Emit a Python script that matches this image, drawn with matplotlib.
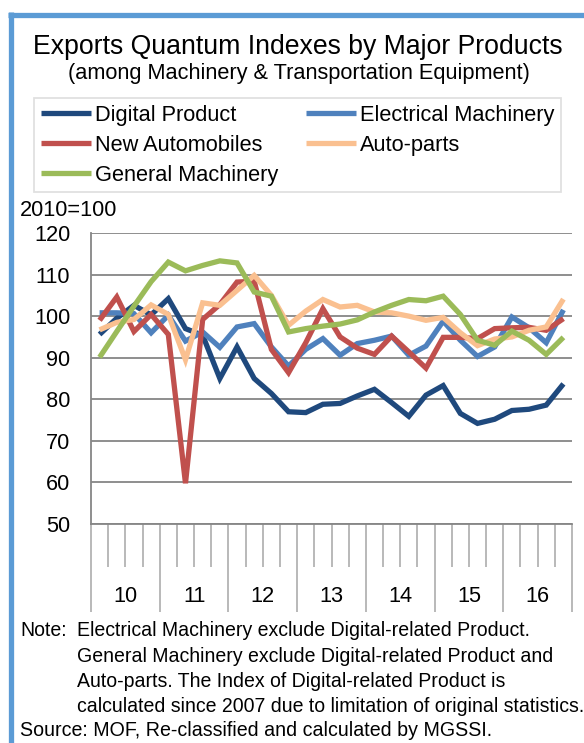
import matplotlib
matplotlib.use("Agg")
import matplotlib.pyplot as plt
import matplotlib.transforms as mtrans
from matplotlib.lines import Line2D
import numpy as np

plt.rcParams['font.family'] = ['Liberation Sans', 'DejaVu Sans']

years = ['10', '11', '12', '13', '14', '15', '16']
digital = [95.6, 99.5, 102.6, 100.3, 104.2, 97.0, 95.4, 85.0, 92.6, 85.0, 81.4, 77.0, 76.8, 78.8,
           79.0, 80.8, 82.4, 79.2, 75.9, 81.0, 83.3, 76.6, 74.2, 75.2, 77.3, 77.6, 78.6, 83.7]
electrical = [100.8, 100.8, 100.6, 96.0, 100.2, 94.0, 96.2, 92.5, 97.4, 98.2, 92.6, 88.0, 92.0, 94.6,
              90.6, 93.4, 94.2, 95.2, 90.6, 92.8, 98.8, 94.2, 90.3, 92.6, 99.8, 97.2, 93.6, 101.5]
new_auto = [99.0, 104.6, 96.3, 100.4, 95.6, 59.8, 99.2, 102.8, 108.2, 108.4, 92.0, 86.4, 93.6, 101.8,
            95.0, 92.3, 90.8, 95.2, 91.4, 87.5, 94.9, 94.9, 94.6, 97.0, 97.2, 97.3, 96.6, 99.4]
auto_parts = [96.7, 98.5, 99.2, 102.7, 100.4, 89.5, 103.2, 102.6, 106.2, 109.8, 105.0, 97.8, 101.2, 104.0,
              102.2, 102.6, 101.0, 100.8, 100.0, 99.0, 99.7, 96.0, 92.9, 94.5, 95.0, 96.6, 97.4, 104.1]
general = [90.1, 96.3, 102.4, 108.3, 113.0, 110.9, 112.2, 113.3, 112.8, 105.8, 104.8, 96.2, 97.0, 97.6,
           98.1, 99.1, 101.0, 102.6, 104.0, 103.7, 104.8, 100.4, 94.2, 93.0, 96.4, 94.2, 90.8, 94.9]

series = [
    ('Digital Product', digital, '#1F497D'),
    ('Electrical Machinery', electrical, '#4F81BD'),
    ('New Automobiles', new_auto, '#C0504D'),
    ('Auto-parts', auto_parts, '#FAC090'),
    ('General Machinery', general, '#9BBB59'),
]

W, H = 584, 743
fig = plt.figure(figsize=(W / 100, H / 100), dpi=100)

def fx(px):
    return px / W

def fy(py):
    return 1 - py / H

# blue frame
frame_col = '#5B9BD5'
fig.add_artist(Line2D([fx(10.5), fx(10.5)], [fy(12), fy(760)], color=frame_col, lw=3.8,
                      transform=fig.transFigure, solid_capstyle='butt'))
fig.add_artist(Line2D([fx(8), fx(600)], [fy(14.5), fy(14.5)], color=frame_col, lw=3.8,
                      transform=fig.transFigure, solid_capstyle='butt'))

ax = fig.add_axes([fx(91), fy(524), fx(572) - fx(91), (524 - 233) / H])

x = np.arange(len(digital)) + 0.5
handles = {}
for name, vals, col in series:
    ln, = ax.plot(x, vals, color=col, lw=3.8, solid_joinstyle='miter', solid_capstyle='butt', label=name)
    handles[name] = ln

ax.set_xlim(0, 28)
ax.set_ylim(50, 120)
ax.set_yticks(range(50, 121, 10))
ax.yaxis.grid(True, color='#868686', lw=1.3)
ax.set_axisbelow(True)
for s in ['top', 'right']:
    ax.spines[s].set_visible(False)
ax.spines['left'].set_color('#868686')
ax.spines['left'].set_linewidth(1.3)
ax.spines['bottom'].set_color('#868686')
ax.spines['bottom'].set_linewidth(1.3)
ax.tick_params(axis='y', length=0, pad=15, labelsize=15.7)
ax.set_xticks(range(0, 29, 4))
ax.set_xticklabels([])
ax.set_xticks(range(0, 29), minor=True)
ax.tick_params(axis='x', which='major', length=63, width=1.1, color='#A6A6A6', direction='out')
ax.tick_params(axis='x', which='minor', length=31, width=1.1, color='#A6A6A6', direction='out')
trans = mtrans.blended_transform_factory(ax.transData, ax.transAxes)
for i, yl in enumerate(years):
    ax.text(4 * i + 2, (524 - 597) / 291, yl, transform=trans, ha='center', va='center', fontsize=15.7)

# titles
fig.text(fx(298), fy(47), 'Exports Quantum Indexes by Major Products', ha='center', va='center', fontsize=19.2)
fig.text(fx(299), fy(73), '(among Machinery & Transportation Equipment)', ha='center', va='center', fontsize=15.7)
fig.text(fx(20), fy(211), '2010=100', ha='left', va='center', fontsize=15.7)

order = ['Digital Product', 'New Automobiles', 'General Machinery', 'Electrical Machinery', 'Auto-parts']
leg = fig.legend([handles[n] for n in order], order, ncol=2, loc='upper left',
                 bbox_to_anchor=(fx(34), fy(98)),
                 fontsize=15.7, handlelength=2.3, handletextpad=0.2, labelspacing=0.42,
                 borderpad=0.3, columnspacing=1.25, frameon=True, fancybox=False, borderaxespad=0)
leg.get_frame().set_edgecolor('#D9D9D9')
leg.get_frame().set_linewidth(1.3)

# notes
fs_note = 14.05
fig.text(fx(20), fy(631), 'Note:', ha='left', va='center', fontsize=fs_note)
notes = ['Electrical Machinery exclude Digital-related Product.',
         'General Machinery exclude Digital-related Product and',
         'Auto-parts. The Index of Digital-related Product is',
         'calculated since 2007 due to limitation of original statistics.']
for k, t in enumerate(notes):
    fig.text(fx(77), fy(631 + 25.3 * k), t, ha='left', va='center', fontsize=fs_note)
fig.text(fx(20), fy(731), 'Source: MOF, Re-classified and calculated by MGSSI.', ha='left', va='center', fontsize=14.15)

fig.savefig('out.png', dpi=100)
